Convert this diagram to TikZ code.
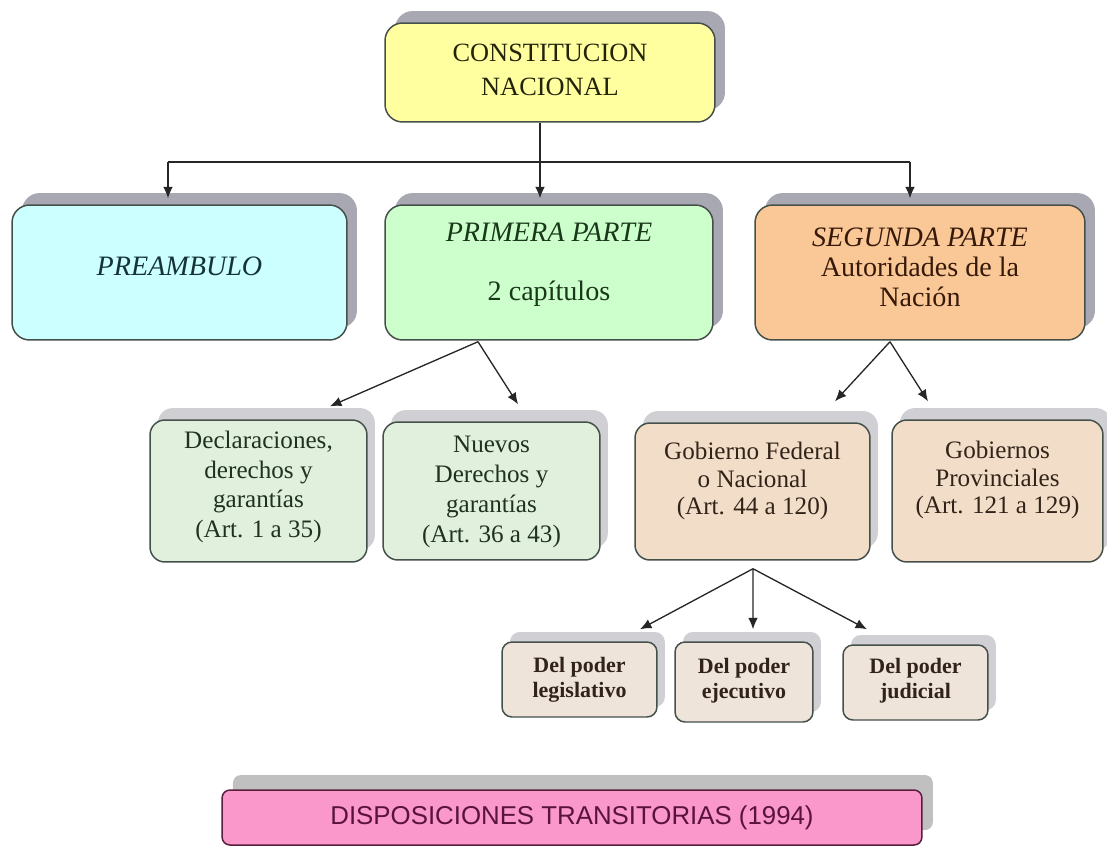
\documentclass[tikz,border=0pt]{standalone}
\usepackage{fontspec}
\setmainfont{Liberation Serif}
\setsansfont{Liberation Sans}
\usetikzlibrary{shadows,arrows.meta,calc}
\definecolor{yelF}{RGB}{255,255,160}
\definecolor{cyaF}{RGB}{204,255,255}
\definecolor{grnF}{RGB}{204,255,204}
\definecolor{orgF}{RGB}{250,200,150}
\definecolor{grn2}{RGB}{224,240,220}
\definecolor{tan2}{RGB}{242,222,200}
\definecolor{tan3}{RGB}{238,228,218}
\definecolor{pnkF}{RGB}{250,152,204}
\definecolor{shA}{RGB}{168,168,178}
\definecolor{shB}{RGB}{208,208,212}
\definecolor{shP}{RGB}{192,192,192}
\definecolor{bdr}{RGB}{70,80,75}
\definecolor{tOl}{RGB}{35,35,10}
\definecolor{tTe}{RGB}{20,50,55}
\definecolor{tGr}{RGB}{25,55,25}
\definecolor{tBr}{RGB}{55,25,10}
\definecolor{tG2}{RGB}{30,50,30}
\definecolor{tB2}{RGB}{50,35,25}
\definecolor{tMa}{RGB}{90,20,60}
\definecolor{pBd}{RGB}{90,30,60}
\tikzset{
  box/.style={rounded corners=10pt, line width=0.85pt, inner sep=0pt, draw=bdr},
  lvA/.style={box, drop shadow={shadow xshift=5.7pt, shadow yshift=6.8pt, fill=shA, opacity=1}},
  lvB/.style={box, rounded corners=8.5pt, drop shadow={shadow xshift=4.5pt, shadow yshift=6.8pt, fill=shB, opacity=1}},
  lvC/.style={box, rounded corners=5.7pt, drop shadow={shadow xshift=4.5pt, shadow yshift=5.7pt, fill=shB, opacity=1}},
  lvP/.style={box, rounded corners=4.5pt, draw=pBd, fill=pnkF, drop shadow={shadow xshift=6.2pt, shadow yshift=8.5pt, fill=shP, opacity=1}},
  txt/.style={align=center, inner sep=0pt},
  tA/.style={txt, font=\fontsize{16pt}{17.5pt}\selectfont},
  tB/.style={txt, font=\fontsize{14.3pt}{17pt}\selectfont},
  tBb/.style={txt, font=\fontsize{14.3pt}{15.5pt}\selectfont},
  tC/.style={txt, text=tB2, font=\bfseries\fontsize{12.5pt}{14pt}\selectfont},
  arr/.style={-{Latex[length=6.5pt,width=5.5pt]}, line width=0.75pt, black!85},
  ln/.style={line width=0.75pt, black!85},
}
\begin{document}
\begin{tikzpicture}[x=0.02cm, y=-0.02cm]
\fill[white] (0,0) rectangle (1107,846);
\useasboundingbox (0,0) rectangle (1107,846);

% level 1
\node[lvA, fill=yelF, minimum width=6.6cm, minimum height=1.98cm] (cn) at (550,72.5) {};
\node[txt, text=tOl, font=\fontsize{15pt}{19pt}\selectfont] (cnt) at (550,70) {CONSTITUCION\\NACIONAL};

\node[lvA, fill=cyaF, minimum width=6.7cm, minimum height=2.7cm] (pre) at (179.5,272.5) {};
\node[tA, text=tTe] (pret) at (179.5,266) {\itshape PREAMBULO};

\node[lvA, fill=grnF, minimum width=6.56cm, minimum height=2.7cm] (prim) at (549,272.5) {};
\node[tA, text=tGr] (primt) at (549,265) {\textit{PRIMERA PARTE}\\[16pt]2 capítulos};

\node[lvA, fill=orgF, minimum width=6.6cm, minimum height=2.7cm] (seg) at (920,272.5) {};
\node[tA, text=tBr, font=\fontsize{16pt}{17pt}\selectfont] (segt) at (920,267.5) {\textit{SEGUNDA PARTE}\\Autoridades de la\\Nación};

% level 2
\node[lvB, fill=grn2, minimum width=4.34cm, minimum height=2.84cm] (dec) at (258.5,491) {};
\node[tB, text=tG2] (dect) at (258.5,487) {Declaraciones,\\derechos y\\garantías\\(Art. 1 a 35)};

\node[lvB, fill=grn2, minimum width=4.34cm, minimum height=2.76cm] (nue) at (491.5,491) {};
\node[tB, text=tG2] (nuet) at (491.5,492) {Nuevos\\Derechos y\\garantías\\(Art. 36 a 43)};

\node[lvB, fill=tan2, minimum width=4.7cm, minimum height=2.74cm] (gob) at (752.5,491.5) {};
\node[tBb, text=tB2] (gobt) at (752.5,481) {Gobierno Federal\\o Nacional\\(Art. 44 a 120)};

\node[lvB, fill=tan2, minimum width=4.22cm, minimum height=2.84cm] (prov) at (997.5,491) {};
\node[tBb, text=tB2] (provt) at (997.5,480) {Gobiernos\\Provinciales\\(Art. 121 a 129)};

% level 3
\node[lvC, fill=tan3, minimum width=3.1cm, minimum height=1.5cm] (leg) at (579.5,679.5) {};
\node[tC] (legt) at (579.5,680) {Del poder\\legislativo};

\node[lvC, fill=tan3, minimum width=2.76cm, minimum height=1.6cm] (eje) at (744,682) {};
\node[tC] (ejet) at (744,681) {Del poder\\ejecutivo};

\node[lvC, fill=tan3, minimum width=2.9cm, minimum height=1.5cm] (jud) at (915.5,682.5) {};
\node[tC] (judt) at (915.5,681) {Del poder\\judicial};

% transitional
\node[lvP, minimum width=14cm, minimum height=1.1cm] (disp) at (572,817.5) {};
\node[txt, text=tMa, font=\sffamily\fontsize{14.7pt}{16pt}\selectfont] (dispt) at (572,818) {DISPOSICIONES TRANSITORIAS (1994)};

% connectors top
\coordinate (j) at (540,162);
\coordinate (h1) at (168,162);
\coordinate (h3) at (910,162);
\draw[ln] (j |- cn.south) -- (j);
\draw[ln] (h1) -- (h3);
\draw[arr, shorten >=3.4pt] (h1) -- (h1 |- pre.north);
\draw[arr, shorten >=3.4pt] (j) -- (j |- prim.north);
\draw[arr, shorten >=3.4pt] (h3) -- (h3 |- seg.north);

% primera -> children
\coordinate (p0) at ($(prim.south)+(-71,1)$);
\draw[arr] (p0) -- ($(dec.north)+(71.5,-13)$);
\draw[arr] (p0) -- ($(nue.north)+(26.5,-17)$);

% segunda -> children
\coordinate (s0) at ($(seg.south)+(-30,1)$);
\draw[arr] (s0) -- ($(gob.north)+(82.5,-21)$);
\draw[arr] (s0) -- ($(prov.north)+(-69.5,-18)$);

% gobierno -> poderes
\coordinate (g0) at ($(gob.south)+(0.5,8)$);
\draw[arr] (g0) -- ($(leg.north)+(60.5,-12)$);
\draw[arr] (g0) -- ($(eje.north)+(9,-12)$);
\draw[arr] (g0) -- ($(jud.north)+(-48.5,-15)$);
\end{tikzpicture}
\end{document}
